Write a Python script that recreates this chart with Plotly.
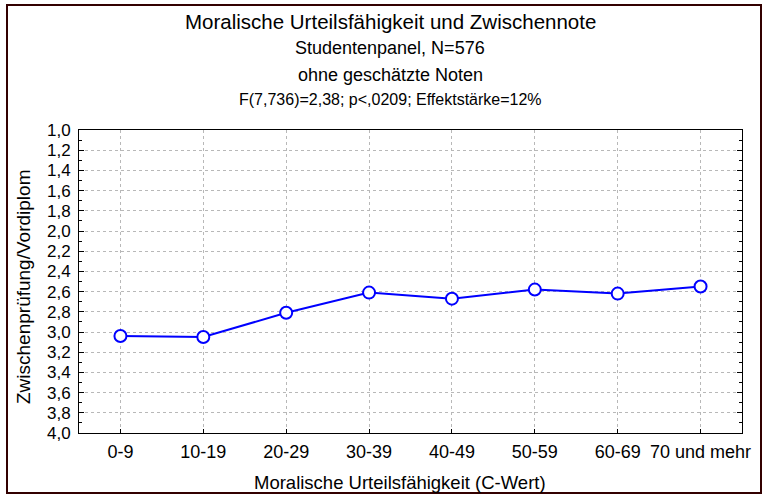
import plotly.graph_objects as go

categories = ["0-9", "10-19", "20-29", "30-39", "40-49", "50-59", "60-69", "70 und mehr"]
values = [3.04, 3.05, 2.81, 2.61, 2.67, 2.58, 2.62, 2.55]
y_ticks = [1.0, 1.2, 1.4, 1.6, 1.8, 2.0, 2.2, 2.4, 2.6, 2.8, 3.0, 3.2, 3.4, 3.6, 3.8, 4.0]

title_main = "Moralische Urteilsfähigkeit und Zwischennote"
title_sub1 = "Studentenpanel, N=576"
title_sub2 = "ohne geschätzte Noten"
title_sub3 = "F(7,736)=2,38; p<,0209; Effektstärke=12%"
x_title = "Moralische Urteilsfähigkeit (C-Wert)"
y_title = "Zwischenprüfung/Vordiplom"

FONT = "Liberation Sans, Arial, sans-serif"

# plot area in pixels
L, R, T, B = 79, 742, 130, 433
W, H = 769, 504
PW, PH = R - L, B - T


def px(x):
    return (x - L) / PW


def py(y):
    return (B - y) / PH


fig = go.Figure()
fig.add_trace(go.Scatter(
    x=list(range(len(categories))), y=values, mode="lines+markers",
    line=dict(color="#0000ff", width=2),
    marker=dict(symbol="circle", size=12, color="white", line=dict(color="#0000ff", width=2)),
    showlegend=False,
))

fig.update_layout(
    width=W, height=H,
    margin=dict(l=L, r=W - R, t=T, b=H - B),
    paper_bgcolor="white", plot_bgcolor="white",
    separators=",.",
    font=dict(family=FONT, color="black"),
    xaxis=dict(
        range=[-0.5, 7.5], tickmode="array",
        tickvals=list(range(len(categories))), ticktext=categories,
        showline=True, linecolor="black", linewidth=1, mirror=True,
        ticks="inside", ticklen=4, tickcolor="black",
        showgrid=True, gridcolor="#b8b8b8", griddash="dot", gridwidth=1,
        tickfont=dict(size=18, family=FONT), zeroline=False,
        ticklabelstandoff=2,
    ),
    yaxis=dict(
        range=[4.0, 1.0], tickmode="array", tickvals=y_ticks,
        ticktext=[f"{v:.1f}".replace(".", ",") for v in y_ticks],
        showline=True, linecolor="black", linewidth=1, mirror="ticks",
        ticks="inside", ticklen=5, tickcolor="black",
        minor=dict(dtick=0.1, ticks="inside", ticklen=3, tickcolor="black", showgrid=False),
        showgrid=True, gridcolor="#b8b8b8", griddash="dot", gridwidth=1,
        tickfont=dict(size=17, family=FONT), zeroline=False,
        ticklabelstandoff=4,
    ),
)

anns = [
    (title_main, 21, 20.5),
    (title_sub1, 48, 18),
    (title_sub2, 75, 18),
    (title_sub3, 100, 16),
]
for text, ypix, size in anns:
    fig.add_annotation(text=text, xref="paper", yref="paper", x=px(390), y=py(ypix),
                       showarrow=False, xanchor="center", yanchor="middle",
                       font=dict(size=size, family=FONT, color="black"))

fig.add_annotation(text=x_title, xref="paper", yref="paper", x=px(400), y=py(482),
                   showarrow=False, xanchor="center", yanchor="middle",
                   font=dict(size=18.5, family=FONT, color="black"))
fig.add_annotation(text=y_title, xref="paper", yref="paper", x=px(23), y=py(287),
                   showarrow=False, xanchor="center", yanchor="middle", textangle=-90,
                   font=dict(size=19, family=FONT, color="black"))

fig.add_shape(type="rect", xref="paper", yref="paper",
              x0=px(7), x1=px(761), y0=py(493), y1=py(5),
              line=dict(color="#330000", width=2), fillcolor="rgba(0,0,0,0)", layer="below")

fig.write_html("out.html", config={"displayModeBar": False},
               post_script="document.body.style.margin='0';document.body.style.overflow='hidden';")
